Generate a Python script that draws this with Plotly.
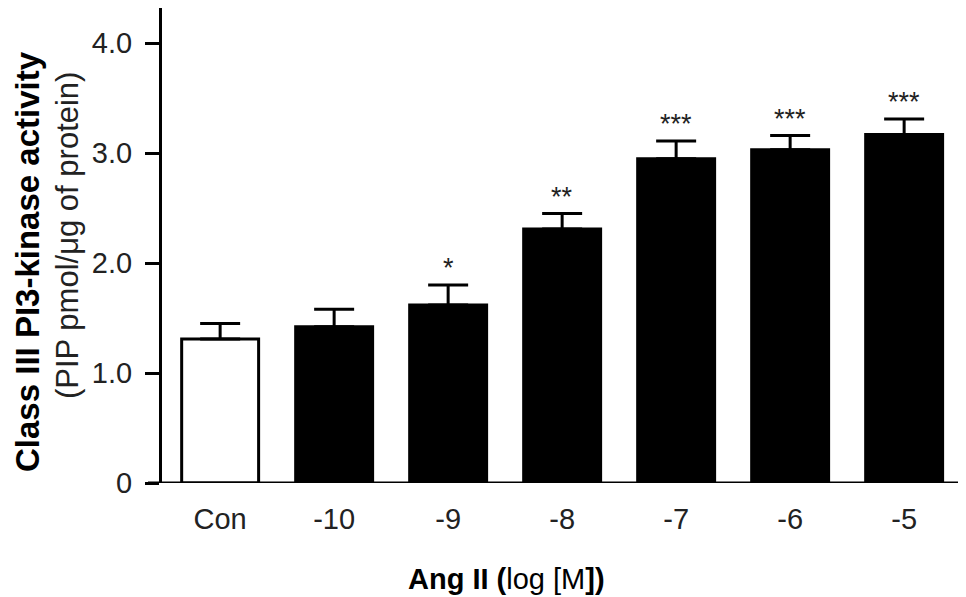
import plotly.graph_objects as go

categories = ["Con", "-10", "-9", "-8", "-7", "-6", "-5"]
means = [1.31, 1.42, 1.62, 2.31, 2.95, 3.03, 3.17]
sem = [0.14, 0.16, 0.18, 0.14, 0.16, 0.13, 0.14]
signif = ["", "", "*", "**", "***", "***", "***"]
fills = ["white", "black", "black", "black", "black", "black", "black"]
ytick_vals = [0, 1, 2, 3, 4]
ytick_text = ["0", "1.0", "2.0", "3.0", "4.0"]

FONT = "Liberation Sans, Arial, sans-serif"

# page body has an 8px margin; plot area spans page x 162..960, y 8..483
W, H = 958, 589
L, R, T, B = 154, 6, 0, 114
pw = W - L - R
ph = H - T - B


def px(xp):
    return (xp - 162) / pw


def py(yp):
    return (483 - yp) / ph


fig = go.Figure()
fig.add_trace(go.Bar(
    x=list(range(len(categories))), y=means,
    marker=dict(color=fills, line=dict(color="black", width=3)),
    width=0.675,
    error_y=dict(type="data", array=sem, arrayminus=[0] * len(sem), symmetric=False,
                 color="black", thickness=3, width=20),
))

for i, (m, s, t) in enumerate(zip(means, sem, signif)):
    if t:
        fig.add_annotation(x=i, y=m + s, text=t, showarrow=False, yanchor="bottom",
                           yshift=0, font=dict(size=27, color="#222", family=FONT))

fig.add_annotation(xref="paper", yref="paper", x=px(27), y=py(262),
                   text="<b>Class III PI3-kinase activity</b>", textangle=-90, showarrow=False,
                   xanchor="center", yanchor="middle",
                   font=dict(size=33, color="black", family=FONT))
fig.add_annotation(xref="paper", yref="paper", x=px(67), y=py(236),
                   text="(PIP pmol/μg of protein)", textangle=-90, showarrow=False,
                   xanchor="center", yanchor="middle",
                   font=dict(size=31, color="#222", family=FONT))
fig.add_annotation(xref="paper", yref="paper", x=px(506), y=py(597), yanchor="bottom",
                   text="<b>Ang II (</b>log [M<b>])</b>", showarrow=False,
                   xanchor="center",
                   font=dict(size=29, color="black", family=FONT))

# x axis baseline extending left past the y axis like a tick
fig.add_shape(type="line", xref="paper", yref="y", x0=-14 / pw, x1=1, y0=0, y1=0,
              line=dict(color="black", width=3))

fig.update_layout(
    width=W, height=H,
    margin=dict(l=L, r=R, t=T, b=B),
    plot_bgcolor="white", paper_bgcolor="white",
    showlegend=False,
    xaxis=dict(range=[-0.51, 6.49], tickvals=list(range(len(categories))), ticktext=categories,
               showline=False, showgrid=False, zeroline=False, ticks="",
               tickfont=dict(size=29, color="#222", family=FONT),
               ticklabelstandoff=16),
    yaxis=dict(range=[0, 4.32], tickvals=ytick_vals, ticktext=ytick_text,
               showline=True, linecolor="black", linewidth=3, showgrid=False, zeroline=False,
               ticks="outside", ticklen=14, tickwidth=3, tickcolor="black",
               tickfont=dict(size=29, color="#222", family=FONT),
               ticklabelstandoff=7),
)

fig.write_html("out.html")
